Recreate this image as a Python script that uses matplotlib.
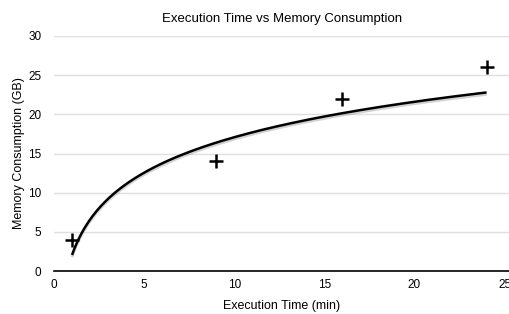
"""
Execution time vs memory consumption, with a logarithmic trend line.
"""
import numpy as np
import matplotlib
matplotlib.use("Agg")
import matplotlib.pyplot as plt
import matplotlib.patheffects as pe

# Data ------------------------------------------------------------------------

exec_time_min = [1, 9, 16, 24]
memory_gb = [4, 14, 22, 26]

# log trend line y = a*ln(x) + b, as drawn in the reference
trend_a = 6.53
trend_b = 2.04

x_ticks = [0, 5, 10, 15, 20, 25]
y_ticks = [0, 5, 10, 15, 20, 25, 30]

# Plot ------------------------------------------------------------------------

plt.rcParams["font.family"] = ["Liberation Sans", "DejaVu Sans"]

fig = plt.figure(figsize=(5.10, 3.14), dpi=100)
ax = fig.add_axes([54 / 510, 1 - 271 / 314, 456 / 510, 235 / 314])

trend_x = np.linspace(min(exec_time_min), max(exec_time_min), 200)
trend_y = trend_a * np.log(trend_x) + trend_b
ax.plot(trend_x, trend_y, color="black", lw=1.8, solid_capstyle="butt",
        path_effects=[pe.SimpleLineShadow(offset=(0, -1.5), shadow_color="gray",
                                          alpha=0.35),
                      pe.Normal()], zorder=3)

ax.scatter(exec_time_min, memory_gb, marker="+", s=90, color="black",
           linewidths=1.8, zorder=4)

ax.set_xlim(0, 25.3)
ax.set_ylim(0, 30)
ax.set_xticks(x_ticks)
ax.set_yticks(y_ticks)
ax.grid(axis="y", color="#e0e0e0", lw=1)
ax.set_axisbelow(True)
for side in ["left", "right", "top"]:
    ax.spines[side].set_visible(False)
ax.spines["bottom"].set_linewidth(1.2)
ax.tick_params(axis="both", length=0, labelsize=8.5, pad=6)
ax.tick_params(axis="y", pad=9)

ax.set_title("Execution Time vs Memory Consumption", fontsize=9.5, pad=10)
ax.set_xlabel("Execution Time (min)", fontsize=9, labelpad=6)
ax.set_ylabel("Memory Consumption (GB)", fontsize=9, labelpad=2)

fig.savefig("out.png", dpi=100)
